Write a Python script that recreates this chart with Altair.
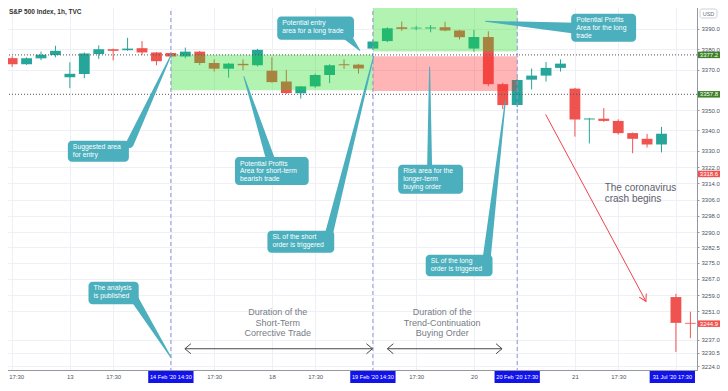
import altair as alt
import pandas as pd

W, H = 693, 366
PAD = {"left": -4, "top": -4, "right": 23, "bottom": 13}

TEAL, RED = "#26a69a", "#ef5350"
CALLOUT = "#4bafbd"
FONT = "Liberation Sans"

# ---------------- candles (x = bar position on the chart) ----------------
bars = list(range(48))
opens = [3375.6, 3372.6, 3375.5, 3377.1, 3366.2, 3367.8, 3377.6, 3380.0, 3379.5, 3380.5,
         3378.4, 3378.1, 3376.4, 3378.8, 3373.2, 3370.4, 3372.8, 3372.1, 3369.4, 3364.1,
         3358.3, 3361.7, 3367.3, 3372.6, 3372.4, 3380.3, 3384.0, 3390.8, 3390.2, 3390.2,
         3390.8, 3389.2, 3380.3, 3386.0, 3362.8, 3352.5, 3365.0, 3367.0, 3370.8, 3360.6,
         3345.4, 3345.8, 3344.7, 3338.7, 3335.9, 3333.1, 3258.0, 3245.3]
highs = [3376.5, 3376.0, 3378.8, 3381.7, 3373.6, 3378.4, 3381.9, 3380.3, 3385.6, 3384.0,
         3378.6, 3378.6, 3380.8, 3379.2, 3375.0, 3373.2, 3375.0, 3380.2, 3376.0, 3369.8,
         3361.9, 3368.0, 3372.6, 3375.0, 3372.8, 3384.5, 3390.8, 3393.6, 3391.5, 3391.9,
         3393.5, 3389.5, 3389.5, 3388.8, 3363.5, 3365.5, 3370.5, 3373.7, 3375.0, 3361.0,
         3346.2, 3351.0, 3345.5, 3339.0, 3338.3, 3341.8, 3259.6, 3250.8]
lows = [3371.3, 3372.3, 3374.6, 3376.0, 3360.8, 3365.7, 3375.2, 3374.5, 3379.2, 3377.1,
        3372.1, 3375.8, 3375.5, 3372.2, 3369.0, 3366.0, 3369.7, 3371.5, 3363.5, 3358.0,
        3355.7, 3361.0, 3363.3, 3370.3, 3368.0, 3379.8, 3383.5, 3389.0, 3389.3, 3388.3,
        3388.8, 3384.8, 3378.8, 3361.8, 3350.5, 3351.5, 3360.2, 3364.1, 3369.0, 3337.0,
        3333.6, 3344.2, 3338.0, 3328.8, 3331.6, 3329.2, 3231.0, 3237.8]
closes = [3372.6, 3375.6, 3377.3, 3379.2, 3367.9, 3377.9, 3380.0, 3379.2, 3380.3, 3378.4,
          3374.1, 3376.4, 3378.8, 3373.2, 3370.4, 3372.9, 3372.1, 3379.7, 3363.8, 3358.4,
          3361.7, 3367.3, 3372.1, 3372.1, 3370.5, 3383.8, 3390.3, 3390.0, 3390.6, 3390.7,
          3389.2, 3385.9, 3386.0, 3362.8, 3352.5, 3364.9, 3367.0, 3370.8, 3372.9, 3345.4,
          3345.9, 3344.7, 3338.7, 3335.9, 3333.1, 3338.4, 3245.3, 3244.9]

# ---------------- axes ----------------
x_tick_bars = [0, 4, 7, 11, 14, 18, 21, 25, 28, 32, 35, 39, 42, 46]
x_tick_labels = ["17:30", "13", "17:30", "", "17:30", "18", "17:30", "", "17:30", "20", "", "21", "17:30", ""]
marker_centers = [11, 25, 35, 45.75]
marker_labels = ["14 Feb '20    14:30", "19 Feb '20    14:30", "20 Feb '20    17:30", "31 Jul '20    17:30"]
y_ticks = [3390, 3380, 3370, 3350, 3340, 3330, 3322, 3314, 3306, 3298, 3290,
           3282.5, 3275, 3267, 3259, 3251, 3237, 3230.5, 3224]

# ---------------- drawings ----------------
level_prices = [3377.2, 3357.8]
tag_prices = [3377.2, 3357.8, 3318.6, 3244.9]
tag_colors = ["#3e8028", "#3e8028", RED, RED]
vline_bars = [11, 25, 35]

zone_x1 = [11, 25, 25]
zone_x2 = [25, 35, 35]
zone_p1 = [3359.8, 3378.9, 3359.4]
zone_p2 = [3377.3, 3401.4, 3376.5]
zone_col = ["#22dd22", "#22dd22", "#ff2a2a"]

callout_lines = [
    ["Suggested area", "for entry"],
    ["Potential Profits", "Area for short-term", "bearish trade"],
    ["SL of the short", "order is triggered"],
    ["Potential entry", "area for a long trade"],
    ["Risk area for the", "longer-term", "buying order"],
    ["SL of the long", "order is triggered"],
    ["Potential Profits", "Area for the long", "trade"],
    ["The analysis", "is published"],
]
box_left = [3.86, 15.44, 17.69, 18.37, 26.75, 28.66, 38.74, 5.29]
box_right = [8.09, 20.55, 22.32, 23.69, 31.25, 33.29, 43.24, 8.77]
box_top = [3335.0, 3326.9, 3290.7, 3396.1, 3323.1, 3278.8, 3397.5, 3265.5]
box_bottom = [3324.6, 3313.1, 3279.8, 3384.6, 3308.8, 3268.3, 3383.7, 3254.5]
ptr_base_x = [8.15, 17.96, 21.91, 23.14, 28.93, 32.88, 39.08, 8.5]
ptr_base_y = [3333.4, 3324.6, 3287.9, 3387.0, 3321.2, 3276.9, 3390.3, 3256.9]
ptr_tip_x = [11.01, 16.06, 25.05, 24.09, 28.93, 34.18, 32.81, 11.01]
ptr_tip_y = [3377.0, 3366.5, 3376.5, 3379.4, 3371.3, 3354.6, 3393.7, 3228.3]
ptr_width = [8, 9, 8, 9, 5, 8, 11, 8]

dur_lines = [["Duration of the", "Short-Term", "Corrective Trade"],
             ["Duration of the", "Trend-Continuation", "Buying Order"]]
dur_x = [18.41, 29.8]
dur_y = [3252.4, 3252.4]
crash_lines = ["The coronavirus", "crash begins"]
crash_x, crash_y = 41.06, 3314.3

arrow_x1 = [11.97, 26.0, 36.97]
arrow_x2 = [24.97, 33.95, 43.92]
arrow_y1 = [3232.56, 3232.56, 3347.91]
arrow_y2 = [3232.56, 3232.56, 3255.92]
arrow_col = ["#4a4a4a", "#4a4a4a", "#f0434c"]

LEFT_HEAD = "M1.2,-1L0,0L1.2,1"
RIGHT_HEAD = "M-1.2,-1L0,0L-1.2,1"
RED_HEAD = "M-1.7,-1L0,0L-1.7,1"
head_x = [11.97, 24.97, 26.0, 33.95, 43.92]
head_y = [3232.56, 3232.56, 3232.56, 3232.56, 3255.92]
head_shape = [LEFT_HEAD, RIGHT_HEAD, LEFT_HEAD, RIGHT_HEAD, RED_HEAD]
head_angle = [0, 0, 0, 0, 62]
head_size = [100, 100, 100, 100, 64]
head_col = ["#4a4a4a", "#4a4a4a", "#4a4a4a", "#4a4a4a", "#f0434c"]

# ---------------- tables ----------------
candles = pd.DataFrame({"bar": bars, "open": opens, "high": highs, "low": lows, "close": closes})
candles["col"] = [TEAL if c >= o else RED for o, c in zip(opens, closes)]
candles["bl"] = candles["bar"] - 0.375
candles["br"] = candles["bar"] + 0.375

zones = pd.DataFrame({"x1": zone_x1, "x2": zone_x2, "p1": zone_p1, "p2": zone_p2, "col": zone_col})
vlines = pd.DataFrame({"bar": vline_bars})
levels = pd.DataFrame({"price": level_prices})
tags = pd.DataFrame({"price": tag_prices, "col": tag_colors})
tags["lo"] = tags["price"] - 1.6
tags["hi"] = tags["price"] + 1.6
tags["label"] = [f"{p:.1f}" for p in tag_prices]
markers = pd.DataFrame({"c": marker_centers, "label": marker_labels})
markers["x1"] = markers["c"] - 1.57
markers["x2"] = markers["c"] + 1.57

boxes = pd.DataFrame({"x1": box_left, "x2": box_right, "p1": box_top, "p2": box_bottom})
box_text = alt.Data(values=[{"x": l, "y": t, "lines": ln}
                            for l, t, ln in zip(box_left, box_top, callout_lines)])
ptr_rows = []
for i in range(len(ptr_base_x)):
    ptr_rows.append({"id": i, "ord": 0, "x": ptr_base_x[i], "y": ptr_base_y[i], "w": ptr_width[i]})
    ptr_rows.append({"id": i, "ord": 1, "x": ptr_tip_x[i], "y": ptr_tip_y[i], "w": 1})
pointers = pd.DataFrame(ptr_rows)

dur_text = alt.Data(values=[{"x": x, "y": y, "lines": ln} for x, y, ln in zip(dur_x, dur_y, dur_lines)])
crash_text = alt.Data(values=[{"x": crash_x, "y": crash_y, "lines": crash_lines}])

arrows = pd.DataFrame({"x1": arrow_x1, "x2": arrow_x2, "y1": arrow_y1, "y2": arrow_y2, "col": arrow_col})
heads = pd.DataFrame({"x": head_x, "y": head_y, "shape": head_shape, "ang": head_angle,
                      "sz": head_size, "col": head_col})

# ---------------- encodings ----------------
label_expr = "''"
for v, lab in reversed(list(zip(x_tick_bars, x_tick_labels))):
    label_expr = f"datum.value === {v} ? '{lab}' : ({label_expr})"

xs = alt.Scale(domain=[-0.565, 47.46], nice=False, zero=False)
ys = alt.Scale(domain=[3222.1, 3402.25], nice=False, zero=False)
xaxis = alt.Axis(values=x_tick_bars, labelExpr=label_expr, title=None, orient="bottom",
                 grid=True, gridColor="#eef0f5", ticks=False, domainColor="#9598a1",
                 labelFontSize=6, labelFont=FONT, labelColor="#50535e", labelPadding=3,
                 labelOffset={"condition": {"test": "datum.value === 0", "value": 4}, "value": 0},
                 labelOverlap=False, labelFlush=False)
yaxis = alt.Axis(values=y_ticks, format=".1f", title=None, orient="right",
                 grid=True, gridColor="#eef0f5", tickSize=2, tickColor="#9598a1",
                 domainColor="#9598a1", labelFontSize=6, labelFont=FONT, labelColor="#50535e",
                 labelPadding=2, labelOverlap=False, labelFlush=False)


def X(f):
    return alt.X(f, type="quantitative", scale=xs, axis=xaxis)


def Y(f):
    return alt.Y(f, type="quantitative", scale=ys, axis=yaxis)


raw_color = alt.Color("col:N", scale=None)

wicks = alt.Chart(candles).mark_rule(strokeWidth=1).encode(x=X("bar"), y=Y("low"), y2="high", color=raw_color)
bodies = alt.Chart(candles).mark_rect().encode(x=X("bl"), x2="br", y=Y("open"), y2="close", color=raw_color)
zone_layer = alt.Chart(zones).mark_rect(opacity=0.35).encode(x=X("x1"), x2="x2", y=Y("p1"), y2="p2", color=raw_color)
vline_layer = alt.Chart(vlines).mark_rule(strokeDash=[4, 3], color="#8f93d8", strokeWidth=1).encode(x=X("bar"))
level_layer = alt.Chart(levels).mark_rule(strokeDash=[1, 2], color="#555555", strokeWidth=1).encode(y=Y("price"))
arrow_layer = alt.Chart(arrows).mark_rule(strokeWidth=1).encode(x=X("x1"), x2="x2", y=Y("y1"), y2="y2", color=raw_color)
head_layer = alt.Chart(heads).mark_point(filled=False, strokeWidth=1, opacity=1).encode(
    x=X("x"), y=Y("y"), shape=alt.Shape("shape:N", scale=None), angle=alt.Angle("ang:Q", scale=None),
    size=alt.Size("sz:Q", scale=None), color=raw_color)
ptr_layer = alt.Chart(pointers).mark_trail(color=CALLOUT).encode(
    x=X("x"), y=Y("y"), size=alt.Size("w:Q", scale=None), detail="id:N", order="ord:Q")
box_layer = alt.Chart(boxes).mark_rect(cornerRadius=4, color=CALLOUT).encode(x=X("x1"), x2="x2", y=Y("p1"), y2="p2")
box_text_layer = alt.Chart(box_text).mark_text(align="left", baseline="top", dx=5, dy=3.5, fontSize=6.8,
                                              lineHeight=7.9, color="white", font=FONT).encode(
    x=X("x:Q"), y=Y("y:Q"), text="lines:N")
dur_layer = alt.Chart(dur_text).mark_text(align="center", baseline="top", fontSize=9, lineHeight=10.4,
                                         color="#787b86", font=FONT).encode(x=X("x:Q"), y=Y("y:Q"), text="lines:N")
crash_layer = alt.Chart(crash_text).mark_text(align="left", baseline="top", fontSize=10, lineHeight=11.5,
                                             color="#5d606b", font=FONT).encode(x=X("x:Q"), y=Y("y:Q"), text="lines:N")
tag_layer = alt.Chart(tags).mark_rect().encode(x=alt.value(W + 1), x2=alt.value(W + 23), y=Y("lo"), y2="hi", color=raw_color)
tag_text_layer = alt.Chart(tags).mark_text(fontSize=6, color="white", align="center", baseline="middle",
                                           font=FONT).encode(x=alt.value(W + 12), y=Y("price"), text="label:N")
marker_layer = alt.Chart(markers).mark_rect(color="#1212ea").encode(x=X("x1"), x2="x2", y=alt.value(H + 1), y2=alt.value(H + 13))
marker_text_layer = alt.Chart(markers).mark_text(fontSize=5.6, color="white", align="center", baseline="middle",
                                                 font=FONT).encode(x=X("c"), y=alt.value(H + 7), text="label:N")
title_layer = alt.Chart(pd.DataFrame({"t": ["S&P 500 Index, 1h, TVC"]})).mark_text(
    align="left", baseline="middle", fontSize=6.5, fontWeight="bold", color="#333333", font=FONT).encode(
    x=alt.value(5), y=alt.value(8), text="t:N")
usd_box = alt.Chart(pd.DataFrame({"t": ["USD"]})).mark_rect(fill="white", stroke="#c3c6ce", strokeWidth=0.8,
                                                         cornerRadius=2).encode(
    x=alt.value(W + 3), x2=alt.value(W + 20), y=alt.value(5), y2=alt.value(14))
usd_text = alt.Chart(pd.DataFrame({"t": ["USD"]})).mark_text(fontSize=5.5, color="#6a6d78", align="center",
                                                          baseline="middle", font=FONT).encode(
    x=alt.value(W + 11.5), y=alt.value(9.5), text="t:N")

chart = alt.layer(
    wicks, bodies, zone_layer, vline_layer, level_layer, arrow_layer, head_layer,
    ptr_layer, box_layer, box_text_layer, dur_layer, crash_layer,
    tag_layer, tag_text_layer, marker_layer, marker_text_layer, title_layer, usd_box, usd_text,
).properties(
    width=W, height=H, padding=PAD, autosize=alt.AutoSizeParams(type="none"), background="white"
).configure_view(stroke=None)

chart.save("out.html", embed_options={"renderer": "svg", "actions": False})
